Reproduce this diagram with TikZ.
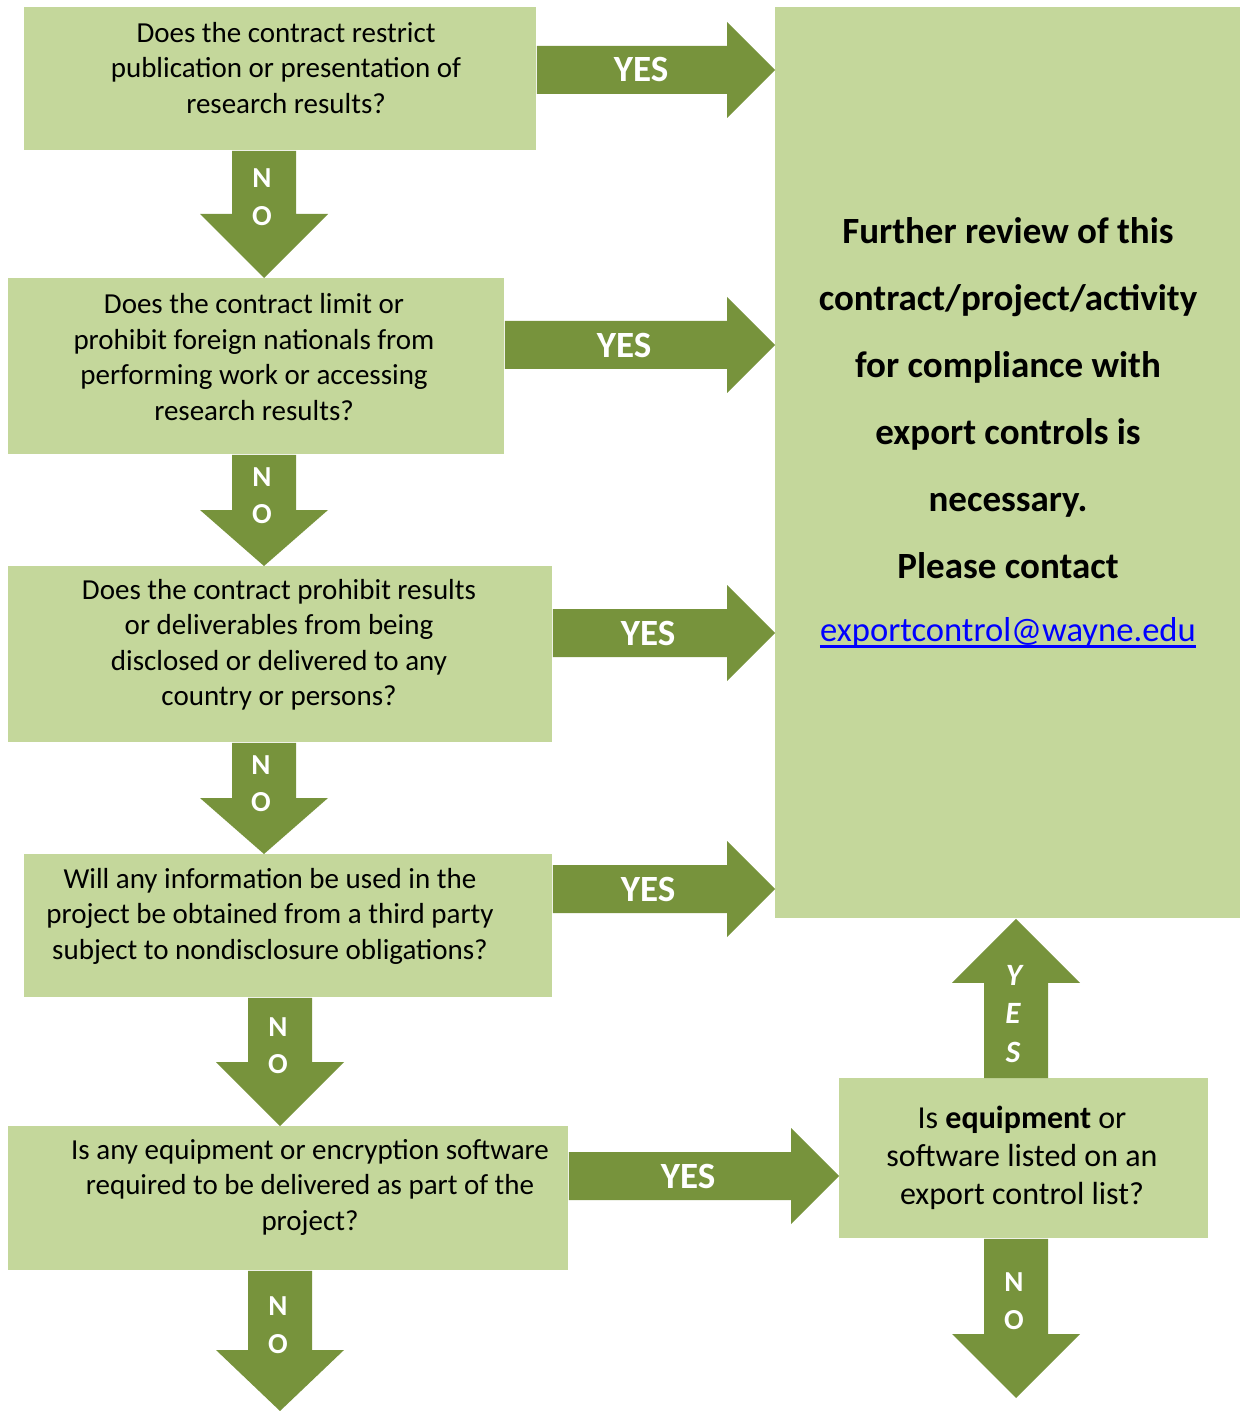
\documentclass[tikz,border=0pt]{standalone}
\usepackage{fontspec}
\setmainfont{Carlito}
\usetikzlibrary{calc}

\definecolor{boxgreen}{RGB}{196,215,155}
\definecolor{arrowgreen}{RGB}{119,147,60}
\definecolor{linkblue}{RGB}{0,0,255}

\tikzset{
  qbox/.style={fill=boxgreen, inner sep=0pt, anchor=north west},
  qtext/.style={align=center, font=\fontsize{14.5}{17.75}\selectfont},
  yeslabel/.style={text=white, font=\bfseries\fontsize{18.5}{20}\selectfont},
  nolabel/.style={text=white, font=\bfseries\fontsize{14.5}{16}\selectfont},
  yesup/.style={text=white, font=\bfseries\itshape\fontsize{15.5}{17}\selectfont},
}

% block arrows, drawn from a start anchor to a tip
\newcommand{\rightblock}[2]{%
  \fill[arrowgreen] ($(#1 |- #2)+(0,-24)$) -- ($(#2)+(-48,-24)$) -- ($(#2)+(-48,-48)$)
    -- (#2) -- ($(#2)+(-48,48)$) -- ($(#2)+(-48,24)$) -- ($(#1 |- #2)+(0,24)$) -- cycle;}
\newcommand{\downblock}[3]{%
  \fill[arrowgreen] ($(#2 |- #1)+(-32,0)$) -- ($(#2)+(-32,-#3)$) -- ($(#2)+(-64,-#3)$)
    -- (#2) -- ($(#2)+(64,-#3)$) -- ($(#2)+(32,-#3)$) -- ($(#2 |- #1)+(32,0)$) -- cycle;}
\newcommand{\upblock}[3]{%
  \fill[arrowgreen] ($(#2 |- #1)+(-32,0)$) -- ($(#2)+(-32,#3)$) -- ($(#2)+(-64,#3)$)
    -- (#2) -- ($(#2)+(64,#3)$) -- ($(#2)+(32,#3)$) -- ($(#2 |- #1)+(32,0)$) -- cycle;}

\begin{document}
\begin{tikzpicture}[x=0.5pt, y=-0.5pt]
\useasboundingbox (0,0) rectangle (1245,1411);

% boxes
\node[qbox, minimum width=256pt, minimum height=71.5pt] (q1) at (24,7) {};
\node[qbox, minimum width=248pt, minimum height=88pt] (q2) at (8,278) {};
\node[qbox, minimum width=272pt, minimum height=88pt] (q3) at (8,566) {};
\node[qbox, minimum width=264pt, minimum height=71.5pt] (q4) at (24,854) {};
\node[qbox, minimum width=280pt, minimum height=72pt] (q5) at (8,1126) {};
\node[qbox, minimum width=184.5pt, minimum height=80pt] (q6) at (839,1078) {};
\node[qbox, minimum width=232.5pt, minimum height=455.5pt] (res) at (775,7) {};

% tips
\coordinate (y1) at (res.west |- 0,70);
\coordinate (y2) at (res.west |- 0,345);
\coordinate (y3) at (res.west |- 0,633);
\coordinate (y4) at (res.west |- 0,889);
\coordinate (y5) at (q6.west |- 0,1176);
\coordinate (n1) at (q2.north -| 264,0);
\coordinate (n2) at (q3.north -| 264,0);
\coordinate (n3) at (q4.north -| 264,0);
\coordinate (n4) at (q5.north -| 280,0);
\coordinate (n5) at (280,1411);
\coordinate (n6) at (1016,1398);
\coordinate (up) at (res.south -| 1016,0);

\rightblock{q1.east}{y1}
\rightblock{q2.east}{y2}
\rightblock{q3.east}{y3}
\rightblock{q4.east}{y4}
\rightblock{q5.east}{y5}
\downblock{q1.south}{n1}{64}
\downblock{q2.south}{n2}{56}
\downblock{q3.south}{n3}{56}
\downblock{q4.south}{n4}{64}
\downblock{q5.south}{n5}{61}
\downblock{q6.south}{n6}{64}
\upblock{q6.north}{up}{64}

% texts
\node[qtext] (q1text) at (286,68) {Does the contract restrict\\publication or presentation of\\research results?};
\node[qtext] (q2text) at (254,357) {Does the contract limit or\\prohibit foreign nationals from\\performing work or accessing\\research results?};
\node[qtext] (q3text) at (279,645) {Does the contract prohibit results\\or deliverables from being\\disclosed or delivered to any\\country or persons?};
\node[qtext] (q4text) at (270,916) {Will any information be used in the\\project be obtained from a third party\\subject to nondisclosure obligations?};
\node[qtext] (q5text) at (310,1187) {Is any equipment or encryption software\\required to be delivered as part of the\\project?};
\node[qtext, font=\fontsize{16}{19}\selectfont] (q6text) at (1022,1158) {Is \textbf{equipment} or\\software listed on an\\export control list?};

\node[align=center, font=\bfseries\fontsize{18.5}{33.5}\selectfont] (restext) at (1008,398)
  {Further review of this\\contract/project/activity\\for compliance with\\export controls is\\necessary.\\Please contact};
\node[inner sep=0pt, text=linkblue, font=\fontsize{17.3}{19}\selectfont] (mail) at (1008,632) {exportcontrol@wayne.edu};
\draw[linkblue, line width=1.5pt] ($(mail.base west)+(0,5)$) -- ($(mail.base east)+(0,5)$);

\node[yeslabel] (yes1) at (641,70) {YES};
\node[yeslabel] (yes2) at (624,345) {YES};
\node[yeslabel] (yes3) at (648,633) {YES};
\node[yeslabel] (yes4) at (648,889) {YES};
\node[yeslabel] (yes5) at (688,1176) {YES};

\node[nolabel] at (262,178) {N};
\node[nolabel] at (262,216) {O};
\node[nolabel] at (262,477) {N};
\node[nolabel] at (262,514) {O};
\node[nolabel] at (261,765) {N};
\node[nolabel] at (261,802) {O};
\node[nolabel] at (278,1027) {N};
\node[nolabel] at (278,1064) {O};
\node[nolabel] at (278,1306) {N};
\node[nolabel] at (278,1344) {O};
\node[nolabel] at (1014,1282) {N};
\node[nolabel] at (1014,1320) {O};

\node[yesup] at (1014,975) {Y};
\node[yesup] at (1013,1013) {E};
\node[yesup] at (1013,1052) {S};

\end{tikzpicture}
\end{document}
